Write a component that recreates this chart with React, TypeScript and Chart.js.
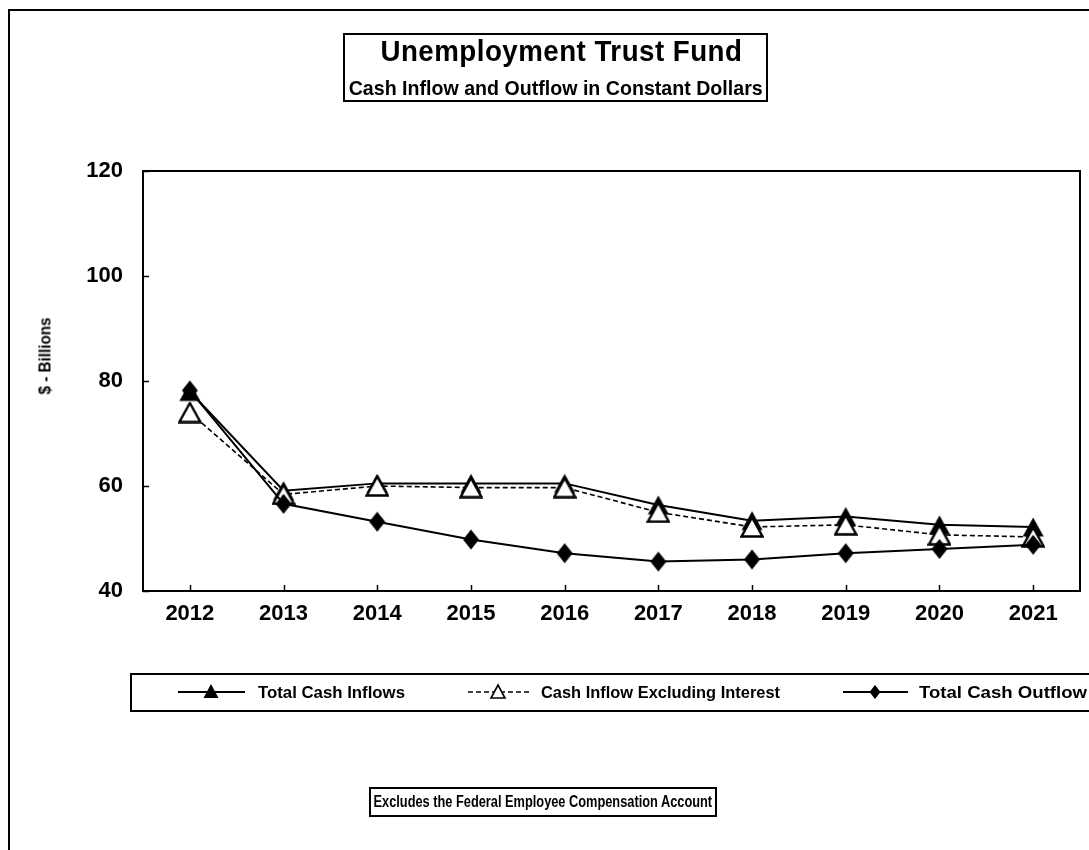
import React, { useEffect, useRef } from 'react';
import { Chart, registerables } from 'chart.js';

Chart.register(...registerables);

const YEARS = ['2012', '2013', '2014', '2015', '2016', '2017', '2018', '2019', '2020', '2021'];
const TOTAL_INFLOWS = [78.0, 59.1, 60.5, 60.5, 60.5, 56.4, 53.4, 54.2, 52.6, 52.2];
const INFLOW_EX_INTEREST = [74.0, 58.4, 60.0, 59.7, 59.7, 55.0, 52.2, 52.6, 50.7, 50.3];
const TOTAL_OUTFLOW = [78.2, 56.6, 53.2, 49.8, 47.2, 45.6, 46.0, 47.2, 48.0, 48.8];
const Y_TICKS = [40, 60, 80, 100, 120];

const SERIES_NAMES = ['Total Cash Inflows', 'Cash Inflow Excluding Interest', 'Total Cash Outflow'];
const TITLE = 'Unemployment Trust Fund';
const SUBTITLE = 'Cash Inflow and Outflow in Constant Dollars';
const Y_TITLE = '$ - Billions';
const FOOTNOTE = 'Excludes the Federal Employee Compensation Account';

const FONT = "'Liberation Sans', Arial, sans-serif";

let measureCtx: CanvasRenderingContext2D | null = null;
function measure(text: string, size: number): number {
  if (!measureCtx) measureCtx = document.createElement('canvas').getContext('2d');
  if (!measureCtx) return text.length * size * 0.55;
  measureCtx.font = `bold ${size}px ${FONT}`;
  return measureCtx.measureText(text).width;
}

type FitProps = {
  text: string;
  x: number;
  y: number;
  size: number;
  width: number;
  centered?: boolean;
  rotate?: boolean;
  spacing?: number;
};

function FitText({ text, x, y, size, width, centered, rotate, spacing = 0 }: FitProps) {
  const natural = measure(text, size) + spacing * text.length;
  const k = width / natural;
  const lh = Math.round(size * 1.25);
  const base: React.CSSProperties = {
    position: 'absolute',
    fontFamily: FONT,
    fontWeight: 'bold',
    fontSize: size,
    lineHeight: `${lh}px`,
    letterSpacing: spacing ? `${spacing}px` : undefined,
    color: '#000',
    whiteSpace: 'nowrap',
    top: y - lh / 2,
    height: lh,
  };
  if (rotate || centered) {
    return (
      <div
        style={{
          ...base,
          left: x - natural / 2,
          width: natural,
          transformOrigin: 'center center',
          transform: rotate ? `rotate(-90deg) scaleX(${k})` : `scaleX(${k})`,
        }}
      >
        {text}
      </div>
    );
  }
  return (
    <div style={{ ...base, left: x, transformOrigin: 'left center', transform: `scaleX(${k})` }}>{text}</div>
  );
}

function makeTriangle(filled: boolean, w: number, h: number): HTMLCanvasElement {
  const c = document.createElement('canvas');
  c.width = w + 2;
  c.height = h + 2;
  const g = c.getContext('2d')!;
  g.beginPath();
  g.moveTo(1 + w / 2, 1.5);
  g.lineTo(1 + w - 0.5, 1 + h - 0.5);
  g.lineTo(1.5, 1 + h - 0.5);
  g.closePath();
  if (filled) {
    g.fillStyle = '#000';
    g.fill();
  } else {
    g.fillStyle = '#fff';
    g.fill();
    g.lineWidth = 2.4;
    g.lineJoin = 'miter';
    g.strokeStyle = '#000';
    g.stroke();
  }
  return c;
}

function makeDiamond(): HTMLCanvasElement {
  const c = document.createElement('canvas');
  c.width = 18;
  c.height = 22;
  const g = c.getContext('2d')!;
  g.beginPath();
  g.moveTo(9, 1);
  g.lineTo(17, 11);
  g.lineTo(9, 21);
  g.lineTo(1, 11);
  g.closePath();
  g.fillStyle = '#000';
  g.fill();
  return c;
}

const plotFrame = {
  id: 'plotFrame',
  beforeDatasetsDraw(chart: any) {
    const { ctx, chartArea: a, scales } = chart;
    ctx.save();
    ctx.strokeStyle = '#000';
    ctx.lineWidth = 2;
    ctx.strokeRect(a.left, a.top, a.right - a.left, a.bottom - a.top);
    ctx.lineWidth = 1.5;
    ctx.beginPath();
    scales.y.ticks.forEach((t: any) => {
      const y = Math.round(scales.y.getPixelForValue(t.value)) + 0.5;
      ctx.moveTo(a.left, y);
      ctx.lineTo(a.left + 6, y);
    });
    YEARS.forEach((_, i) => {
      const x = Math.round(scales.x.getPixelForValue(i)) + 0.5;
      ctx.moveTo(x, a.bottom);
      ctx.lineTo(x, a.bottom - 6);
    });
    ctx.stroke();
    ctx.restore();
  },
};

export default function App() {
  const canvasRef = useRef<HTMLCanvasElement | null>(null);

  useEffect(() => {
    const canvas = canvasRef.current;
    if (!canvas) return;
    const triFilled = makeTriangle(true, 22, 20);
    const triOpen = makeTriangle(false, 22, 20);
    const diamond = makeDiamond();
    const tickFont = { family: FONT, size: 22, weight: 'bold' as const };
    const chart = new Chart(canvas, {
      type: 'line',
      data: {
        labels: YEARS,
        datasets: [
          {
            label: SERIES_NAMES[0],
            data: TOTAL_INFLOWS,
            borderColor: '#000',
            borderWidth: 2,
            pointStyle: triFilled as any,
            pointRadius: 10,
            tension: 0,
            order: 3,
          },
          {
            label: SERIES_NAMES[1],
            data: INFLOW_EX_INTEREST,
            borderColor: '#000',
            borderWidth: 1.6,
            borderDash: [5, 3],
            pointStyle: triOpen as any,
            pointRadius: 10,
            tension: 0,
            order: 2,
          },
          {
            label: SERIES_NAMES[2],
            data: TOTAL_OUTFLOW,
            borderColor: '#000',
            borderWidth: 2,
            pointStyle: diamond as any,
            pointRadius: 10,
            tension: 0,
            order: 1,
          },
        ],
      },
      options: {
        animation: false,
        responsive: false,
        maintainAspectRatio: false,
        layout: { padding: { left: 0, top: 171, right: 9, bottom: 219 }, autoPadding: false },
        plugins: {
          legend: { display: false },
          tooltip: { enabled: false },
          title: { display: false },
        },
        scales: {
          x: {
            type: 'category',
            offset: true,
            grid: { display: false, drawTicks: false },
            border: { display: false },
            ticks: { font: tickFont, color: '#000', padding: 10, maxRotation: 0 },
            afterFit: (s: any) => {
              s.height = 40;
              s.paddingLeft = 0;
              s.paddingRight = 0;
            },
          },
          y: {
            min: 40,
            max: 120,
            grid: { display: false, drawTicks: false },
            border: { display: false },
            ticks: { font: tickFont, color: '#000', padding: 20, stepSize: 20 },
            afterBuildTicks: (s: any) => {
              s.ticks = Y_TICKS.map((v) => ({ value: v }));
            },
            afterFit: (s: any) => {
              s.width = 143;
              s.paddingTop = 0;
              s.paddingBottom = 0;
            },
          },
        },
      },
      plugins: [plotFrame],
    });
    return () => chart.destroy();
  }, []);

  const box: React.CSSProperties = {
    position: 'absolute',
    border: '2px solid #000',
    boxSizing: 'border-box',
    background: 'transparent',
  };
  const ly = 692;

  return (
    <div
      style={{
        position: 'absolute',
        left: 0,
        top: 0,
        width: 1089,
        height: 850,
        overflow: 'hidden',
        background: '#fff',
      }}
    >
      <div style={{ ...box, left: 8, top: 9, width: 1200, height: 1000 }} />
      <canvas ref={canvasRef} width={1089} height={850} style={{ position: 'absolute', left: 0, top: 0 }} />
      <div style={{ ...box, left: 343, top: 33, width: 425, height: 69 }} />
      <FitText text={TITLE} x={561} y={51} size={29} width={362} centered spacing={0.5} />
      <FitText text={SUBTITLE} x={556} y={88} size={21} width={414} centered />
      <FitText text={Y_TITLE} x={45} y={356} size={16} width={77} rotate />
      <div style={{ ...box, left: 130, top: 673, width: 1100, height: 39 }} />
      <svg width={1089} height={850} style={{ position: 'absolute', left: 0, top: 0 }}>
        <line x1={178} y1={ly} x2={245} y2={ly} stroke="#000" strokeWidth={2} />
        <polygon points={`211,${ly - 8} 218.5,${ly + 6} 203.5,${ly + 6}`} fill="#000" />
        <line x1={468} y1={ly} x2={530} y2={ly} stroke="#000" strokeWidth={1.6} strokeDasharray="5 3" />
        <polygon
          points={`498,${ly - 7} 505,${ly + 6} 491,${ly + 6}`}
          fill="#fff"
          stroke="#000"
          strokeWidth={1.6}
        />
        <line x1={843} y1={ly} x2={908} y2={ly} stroke="#000" strokeWidth={2} />
        <polygon points={`875,${ly - 7} 880.5,${ly} 875,${ly + 7} 869.5,${ly}`} fill="#000" />
      </svg>
      <FitText text={SERIES_NAMES[0]} x={258} y={ly} size={17} width={147} />
      <FitText text={SERIES_NAMES[1]} x={541} y={ly} size={17} width={239} />
      <FitText text={SERIES_NAMES[2]} x={919} y={ly} size={17} width={168} />
      <div style={{ ...box, left: 369, top: 787, width: 348, height: 30 }} />
      <FitText text={FOOTNOTE} x={543} y={802} size={16} width={339} centered />
    </div>
  );
}
